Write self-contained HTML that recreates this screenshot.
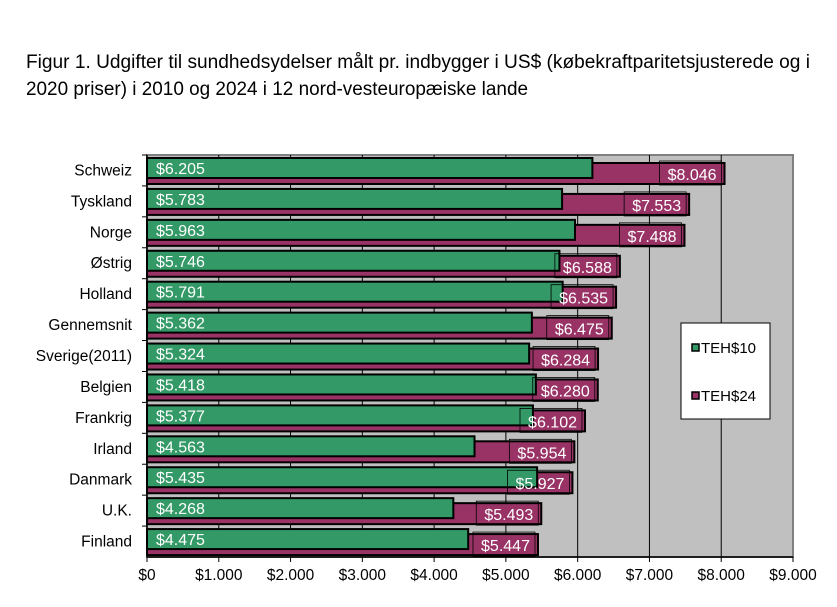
<!DOCTYPE html>
<html><head><meta charset="utf-8"><style>
body{margin:0;background:#fff;}
svg text{font-family:"Liberation Sans",Arial,sans-serif;}
</style></head><body>
<svg id="c" width="837" height="602" xmlns="http://www.w3.org/2000/svg">
<text x="26" y="68" font-size="19" fill="#000" textLength="784" lengthAdjust="spacingAndGlyphs">Figur 1. Udgifter til sundhedsydelser målt pr. indbygger i US$ (købekraftparitetsjusterede og i</text>
<text x="26" y="95" font-size="19" fill="#000" textLength="502" lengthAdjust="spacingAndGlyphs">2020 priser) i 2010 og 2024 i 12 nord-vesteuropæiske lande</text>
<rect x="147" y="155" width="646" height="402" fill="#c0c0c0" stroke="#808080" stroke-width="2"/>
<g id="grid"></g><g id="bars"></g><g id="axis"></g>
<g>
<rect x="681" y="323" width="89" height="96" fill="#fff" stroke="#000"/>
<rect x="692" y="344" width="7" height="7" fill="#339966" stroke="#000" stroke-width="1.5"/>
<text x="701" y="353" font-size="15">TEH$10</text>
<rect x="692" y="392" width="7" height="7" fill="#993366" stroke="#000" stroke-width="1.5"/>
<text x="701" y="401" font-size="15">TEH$24</text>
</g>
</svg>
<script>
const categories=["Schweiz","Tyskland","Norge","Østrig","Holland","Gennemsnit","Sverige(2011)","Belgien","Frankrig","Irland","Danmark","U.K.","Finland"];
const values2010=[6205,5783,5963,5746,5791,5362,5324,5418,5377,4563,5435,4268,4475];
const values2024=[8046,7553,7488,6588,6535,6475,6284,6280,6102,5954,5927,5493,5447];
const ticks=[0,1000,2000,3000,4000,5000,6000,7000,8000,9000];
const NS="http://www.w3.org/2000/svg";
const x0=147,x1=793,y0=155,y1=557,xmax=9000;
const X=v=>x0+(x1-x0)*v/xmax;
const band=(y1-y0)/categories.length;
const Y=i=>y0+band*i;
const fmt=v=>"$"+(v>=1000?Math.floor(v/1000)+"."+String(v%1000).padStart(3,"0"):v);
function mk(t,a,p){const e=document.createElementNS(NS,t);for(const k in a)e.setAttribute(k,a[k]);p.appendChild(e);return e;}
const grid=document.getElementById("grid"),bars=document.getElementById("bars"),axis=document.getElementById("axis");
ticks.forEach((t,i)=>{
 if(t>0&&t<xmax){const l=mk("line",{x1:X(t),x2:X(t),y1:y0,y2:y1,stroke:"#000","stroke-width":1},grid);
 
 }
 const tk=mk("line",{x1:X(t),x2:X(t),y1:y1,y2:y1+5,stroke:"#000"},axis);
 
 
 const tl=mk("text",{x:X(t),y:y1+23,"font-size":15.5,"text-anchor":"middle"},axis);
 tl.textContent=fmt(t);
 
 
});
const ax=mk("line",{x1:x0,x2:x1,y1:y1,y2:y1,stroke:"#000","stroke-width":1.5},axis);


const ay=mk("line",{x1:x0,x2:x0,y1:y0,y2:y1,stroke:"#000","stroke-width":1.5},axis);


categories.forEach((c,i)=>{
 const b=Y(i);
 const cl=mk("text",{x:132,y:b+band/2+5,"font-size":15.5,"text-anchor":"end"},axis);
 cl.textContent=c;
 
 
 const yt=mk("line",{x1:x0-5,x2:x0,y1:b,y2:b,stroke:"#000"},axis);
 
 
 const p=mk("rect",{x:x0,y:b+8,width:X(values2024[i])-x0,height:21,fill:"#993366",stroke:"#000","stroke-width":2},bars);
 
 
 const g=mk("rect",{x:x0,y:b+3,width:X(values2010[i])-x0,height:20,fill:"#339966",stroke:"#000","stroke-width":2},bars);
 
 
 const gl=mk("text",{x:x0+9,y:b+19,"font-size":16,fill:"#fff"},bars);
 gl.textContent=fmt(values2010[i]);
 
 
 const xe=X(values2024[i]);
 const bx=mk("rect",{x:xe-65,y:b+6,width:62,height:24,fill:"none",stroke:"#000","stroke-width":0.8},bars);
 
 
 const pl=mk("text",{x:xe-8,y:b+25,"font-size":16,fill:"#fff","text-anchor":"end"},bars);
 pl.textContent=fmt(values2024[i]);
 
 
});
</script>
</body></html>
